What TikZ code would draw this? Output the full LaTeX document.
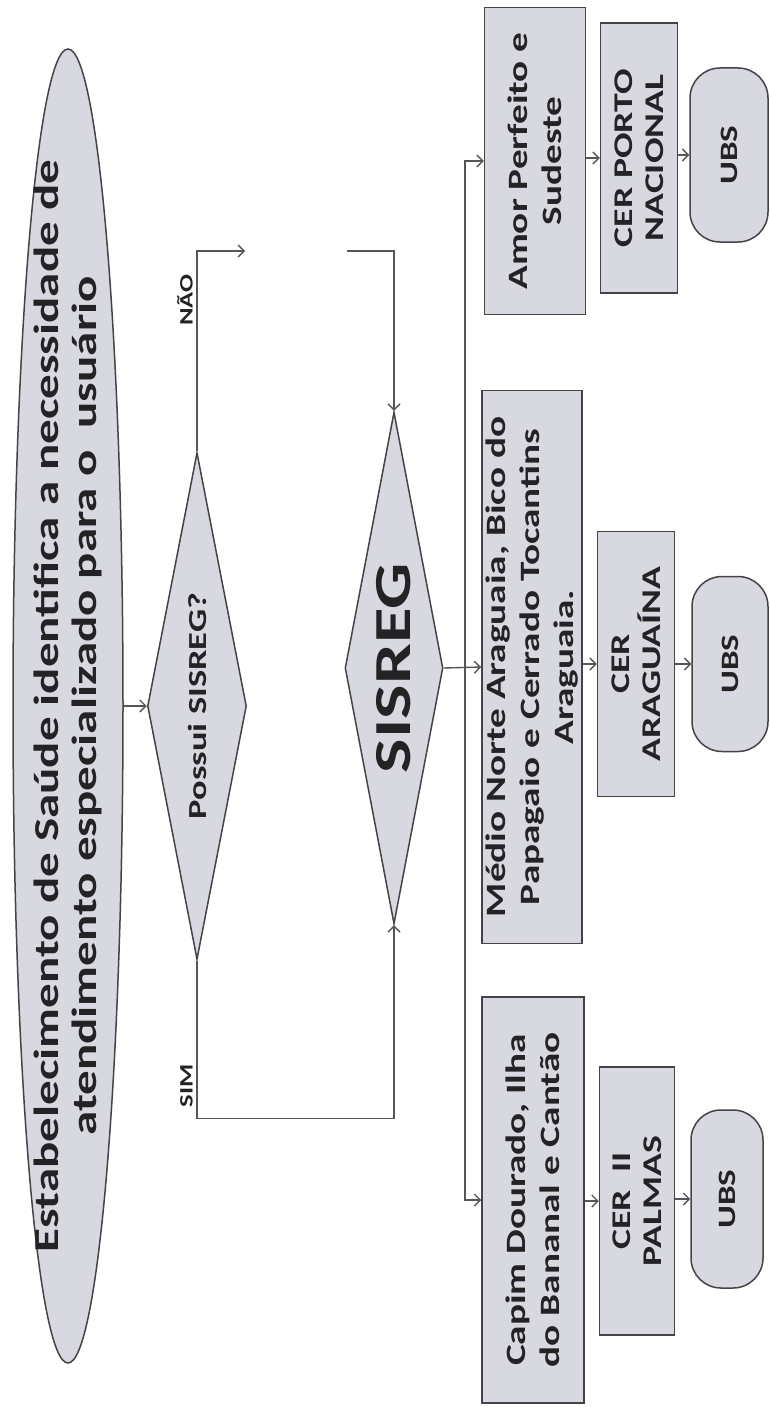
\documentclass[tikz,border=0pt]{standalone}
\usepackage{fontspec}
\setmainfont{Carlito}
\usetikzlibrary{shapes.geometric,arrows.meta}

\definecolor{boxfill}{RGB}{216,216,225}
\definecolor{boxline}{RGB}{68,68,72}
\definecolor{linecol}{RGB}{85,85,90}
\definecolor{textcol}{RGB}{35,35,38}

\tikzset{
  vert/.style={rotate=90, inner sep=0pt, align=center, text=textcol},
  sz/.style 2 args={xscale=1.4, minimum width=#1pt/1.4, minimum height=#2pt},
  cell/.style={vert, draw=boxline, fill=boxfill, line width=1.5pt},
  region/.style={cell, font={\fontsize{28}{34}\selectfont\bfseries}},
  cer/.style={cell, font={\fontsize{27}{31}\selectfont\bfseries}},
  ubs/.style={cell, rounded corners=30pt, font={\fontsize{25}{30}\selectfont\bfseries}},
  decision/.style={cell, diamond},
  arr/.style={draw=linecol, line width=1.4pt, -{Straight Barb[length=6pt,width=12pt]}},
  lbl/.style={vert, xscale=1.4, font={\fontsize{19}{19}\selectfont\bfseries}}
}

\begin{document}
\begin{tikzpicture}[x=1pt, y=-1pt]
  \useasboundingbox[fill=white] (0,0) rectangle (769,1407);

  \node[cell, ellipse, sz={1314}{110}, inner xsep=-200pt,
        font={\fontsize{35}{38}\selectfont\bfseries}] (start) at (68,706)
        {Estabelecimento de Saúde identifica a necessidade de\\atendimento especializado para o\ \ usuário};
  \node[decision, aspect=3.66, sz={507}{99}, font={\fontsize{26}{26}\selectfont\bfseries}] (possui) at (197,706) {Possui SISREG?};
  \node[decision, aspect=3.73, sz={512}{98}, font={\fontsize{52}{52}\selectfont\bfseries}] (sisreg) at (394,668) {SISREG};

  % regioes
  \node[region, sz={307}{101}] (amor) at (535,161) {Amor Perfeito e\\Sudeste};
  \node[cer, sz={270}{77}] (porto) at (639,158) {CER PORTO\\NACIONAL};
  \node[ubs, sz={174}{78}] (ubsa) at (729,155) {UBS};

  \node[region, sz={553}{100}] (medio) at (532,667) {Médio Norte Araguaia, Bico do\\Papagaio e Cerrado Tocantins\\Araguaia.};
  \node[cer, sz={265}{77}] (araguaina) at (636,664) {CER\\ARAGUAÍNA};
  \node[ubs, sz={175}{76}] (ubsb) at (730,664) {UBS};

  \node[region, sz={406}{102}] (capim) at (533,1200) {Capim Dourado, Ilha\\do Bananal e Cantão};
  \node[cer, sz={268}{75}] (palmas) at (637,1201) {CER\ \ II\\PALMAS};
  \node[ubs, sz={178}{72}] (ubsc) at (727,1199) {UBS};

  \node[lbl, anchor=south] (sim) at (193,1086) {SIM};
  \node[lbl, anchor=south] (nao) at (193,300) {NÃO};

  \coordinate (naoend) at (245,251);
  \coordinate (sisregin) at (347,251);
  \coordinate (bus) at (465,667);

  \draw[arr] (start.south) -- (possui.north);
  \draw[arr] (possui.east) |- (naoend);
  \draw[arr] (sisregin) -| (sisreg.east);
  \draw[arr] (possui.west) -- ++(0,158) -| (sisreg.west);
  \draw[arr] (sisreg.south) -- (medio.north);
  \draw[arr] (bus) |- (amor.north);
  \draw[arr] (bus) |- (capim.north);

  \draw[arr] (amor.south |- porto) -- (porto.north);
  \draw[arr] (porto.south |- ubsa) -- (ubsa.north);
  \draw[arr] (medio.south |- araguaina) -- (araguaina.north);
  \draw[arr] (araguaina.south |- ubsb) -- (ubsb.north);
  \draw[arr] (capim.south |- palmas) -- (palmas.north);
  \draw[arr] (palmas.south |- ubsc) -- (ubsc.north);
\end{tikzpicture}
\end{document}
